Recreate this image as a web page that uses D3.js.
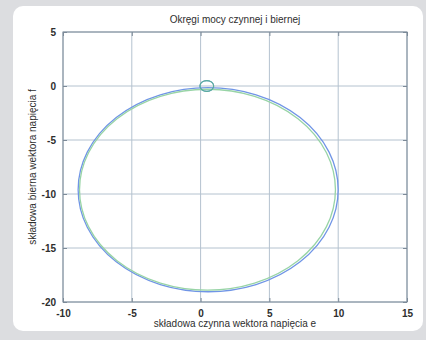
<!DOCTYPE html>
<html>
<head>
<meta charset="utf-8">
<script src="https://cdn.jsdelivr.net/npm/d3@7"></script>
<style>
  html, body { margin: 0; padding: 0; background: #dcdde0; }
  svg { display: block; }
  text { font-family: "Liberation Sans", Arial, sans-serif; fill: #2e2e2e; }
</style>
</head>
<body>
<svg id="chart" width="426" height="340"></svg>
<script>
// Axis extents and tick labels
const xDomain = [-10, 15];
const yDomain = [-20, 5];
const xTicks = [-10, -5, 0, 5, 10, 15];
const yTicks = [-20, -15, -10, -5, 0, 5];

// Power circles: centre (e, f) and radius
const circleNames = ["P", "Q"];
const circleCx = [0.55, 0.5];
const circleCy = [-9.6, -9.6];
const circleR = [9.45, 9.3];
const circleColors = ["#7095e6", "#98d4a6"];

// Small marker circle at the operating point
const markerCx = [0.45, 0.45];
const markerCy = [0, 0];
const markerR = [0.5, 0.5];
const markerColors = ["#5a98cc", "#5cae9a"];

const title = "Okręgi mocy czynnej i biernej";
const xLabel = "składowa czynna wektora napięcia e";
const yLabel = "składowa bierna wektora napięcia f";

const svg = d3.select("#chart");

// White rounded panel
svg.append("rect")
  .attr("x", 13).attr("y", 6)
  .attr("width", 410).attr("height", 325)
  .attr("rx", 10).attr("ry", 10)
  .attr("fill", "#ffffff");

const m = { left: 63, right: 407, top: 32, bottom: 302 };
const x = d3.scaleLinear().domain(xDomain).range([m.left, m.right]);
const y = d3.scaleLinear().domain(yDomain).range([m.bottom, m.top]);
const fmt = d => String(d);

// Grid
const grid = svg.append("g");
grid.selectAll("line.gx").data(xTicks).join("line")
  .attr("x1", d => x(d)).attr("x2", d => x(d))
  .attr("y1", m.top).attr("y2", m.bottom)
  .attr("stroke", "#b4c2cf").attr("stroke-width", 1);
grid.selectAll("line.gy").data(yTicks).join("line")
  .attr("y1", d => y(d)).attr("y2", d => y(d))
  .attr("x1", m.left).attr("x2", m.right)
  .attr("stroke", "#b4c2cf").attr("stroke-width", 1);

// Circles
const plot = svg.append("g");
plot.selectAll("ellipse.big").data(circleNames).join("ellipse")
  .attr("cx", (d, i) => x(circleCx[i]))
  .attr("cy", (d, i) => y(circleCy[i]))
  .attr("rx", (d, i) => x(circleR[i]) - x(0))
  .attr("ry", (d, i) => y(0) - y(circleR[i]))
  .attr("fill", "none")
  .attr("stroke", (d, i) => circleColors[i])
  .attr("stroke-width", 1.3);

plot.selectAll("ellipse.mark").data(markerCx).join("ellipse")
  .attr("cx", (d, i) => x(markerCx[i]))
  .attr("cy", (d, i) => y(markerCy[i]))
  .attr("rx", (d, i) => x(markerR[i]) - x(0))
  .attr("ry", (d, i) => y(0) - y(markerR[i]))
  .attr("fill", "none")
  .attr("stroke", (d, i) => markerColors[i])
  .attr("stroke-width", 1.1);

// Axes (ticks drawn inward, box around the plot)
const xAxis = d3.axisBottom(x).tickValues(xTicks).tickSize(-4).tickPadding(8).tickFormat(fmt);
const yAxis = d3.axisLeft(y).tickValues(yTicks).tickSize(-4).tickPadding(7).tickFormat(fmt);

const gx = svg.append("g").attr("transform", `translate(0,${m.bottom})`).call(xAxis);
const gy = svg.append("g").attr("transform", `translate(${m.left},0)`).call(yAxis);
[gx, gy].forEach(g => {
  g.select(".domain").remove();
  g.selectAll(".tick line").attr("stroke", "#7d8a98");
  g.selectAll(".tick text")
    .style("font-family", "'Liberation Sans', Arial, sans-serif")
    .style("font-size", "10px").style("font-weight", "bold")
    .attr("fill", "#3a3a3a");
});
// Top/right tick marks
svg.append("g").attr("transform", `translate(0,${m.top})`)
  .call(d3.axisTop(x).tickValues(xTicks).tickSize(-4).tickFormat(""))
  .call(g => { g.select(".domain").remove(); g.selectAll("line").attr("stroke", "#7d8a98"); });
svg.append("g").attr("transform", `translate(${m.right},0)`)
  .call(d3.axisRight(y).tickValues(yTicks).tickSize(-4).tickFormat(""))
  .call(g => { g.select(".domain").remove(); g.selectAll("line").attr("stroke", "#7d8a98"); });

svg.append("rect")
  .attr("x", m.left).attr("y", m.top)
  .attr("width", m.right - m.left).attr("height", m.bottom - m.top)
  .attr("fill", "none").attr("stroke", "#7d8a98").attr("stroke-width", 1);

// Texts
svg.append("text").attr("x", (m.left + m.right) / 2).attr("y", 23)
  .attr("text-anchor", "middle").style("font-size", "10px").text(title);
svg.append("text").attr("x", (m.left + m.right) / 2).attr("y", 327)
  .attr("text-anchor", "middle").style("font-size", "10px").text(xLabel);
svg.append("text")
  .attr("transform", `translate(36,${(m.top + m.bottom) / 2}) rotate(-90)`)
  .attr("text-anchor", "middle").style("font-size", "10px").text(yLabel);
</script>
</body>
</html>
